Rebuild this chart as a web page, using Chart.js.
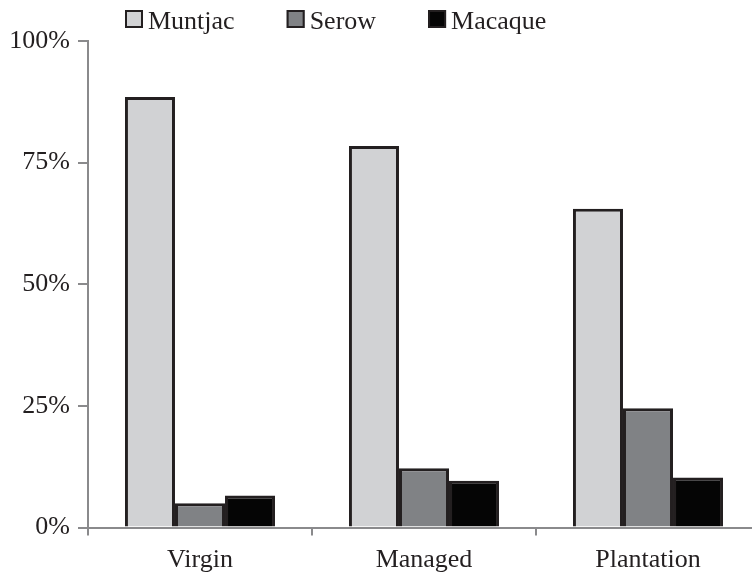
<!DOCTYPE html>
<html lang="en">

<head>
  <meta charset="UTF-8">
  <title>Species share by forest type</title>
  <style>
    * {
      margin: 0;
      padding: 0;
    }

    body {
      width: 752px;
      height: 577px;
      overflow: hidden;
      background: #ffffff;
    }

    .chartBox {
      width: 766px;
      height: 577px;
    }
  </style>
</head>

<body>
  <div class="chartBox">
    <canvas id="myChart"></canvas>
  </div>
  <script src="https://cdn.jsdelivr.net/npm/chart.js@4.4.1/dist/chart.umd.min.js"></script>
  <script>
    const categories = ["Virgin", "Managed", "Plantation"];
    const seriesNames = ["Muntjac", "Serow", "Macaque"];
    const muntjac = [88.5, 78.4, 65.5];
    const serow = [5.0, 12.2, 24.5];
    const macaque = [6.6, 9.6, 10.3];
    const yTicks = [0, 25, 50, 75, 100];

    const fills = ["#d1d2d4", "#808285", "#050505"];
    const edge = "#231f20";
    const axisGrey = "#8a8a8c";
    const serif = "'Liberation Serif', 'Times New Roman', serif";

    Chart.defaults.font.family = serif;
    Chart.defaults.color = edge;

    // legend drawn by hand so it sits where the original one does
    const topLegend = {
      id: "topLegend",
      afterDraw: (chart) => {
        const c = chart.ctx;
        c.save();
        c.font = "26px " + serif;
        c.textBaseline = "alphabetic";
        let x = 125;
        chart.data.datasets.forEach(ds => {
          c.fillStyle = ds.backgroundColor;
          c.fillRect(x, 10, 18, 18);
          c.strokeStyle = edge;
          c.lineWidth = 2;
          c.strokeRect(x + 1, 11, 16, 16);
          c.fillStyle = edge;
          c.fillText(ds.label, x + 23, 29);
          x += 23 + c.measureText(ds.label).width + 52;
        });
        c.restore();
      }
    };

    const data = {
      labels: categories,
      datasets: [muntjac, serow, macaque].map((vals, i) => ({
        label: seriesNames[i],
        data: vals,
        backgroundColor: fills[i],
        borderColor: edge,
        borderWidth: 3,
        categoryPercentage: 0.67,
        barPercentage: 1
      }))
    };

    const options = {
      responsive: true,
      maintainAspectRatio: false,
      animation: false,
      layout: {
        padding: { top: 41, left: 10, right: 6, bottom: 0 }
      },
      plugins: {
        legend: { display: false },
        tooltip: { enabled: false }
      },
      scales: {
        x: {
          afterFit: (scale) => {
            scale.height = 49.5;
          },
          grid: {
            display: true,
            offset: true,
            drawOnChartArea: false,
            drawTicks: true,
            tickLength: 8,
            color: axisGrey,
            lineWidth: 2
          },
          border: { color: axisGrey, width: 2 },
          ticks: {
            font: { size: 26 },
            color: edge,
            padding: 9
          }
        },
        y: {
          min: 0,
          max: 100,
          afterBuildTicks: (scale) => {
            scale.ticks = yTicks.map(v => ({ value: v }));
          },
          afterFit: (scale) => {
            scale.width = 78;
          },
          grid: {
            display: true,
            drawOnChartArea: false,
            drawTicks: true,
            tickLength: 10,
            color: axisGrey,
            lineWidth: 2
          },
          border: { color: axisGrey, width: 2 },
          ticks: {
            font: { size: 26 },
            color: edge,
            padding: 8,
            callback: (v) => v + "%"
          }
        }
      }
    };

    const config = {
      type: "bar",
      data: data,
      options: options,
      plugins: [topLegend]
    };

    const ctx = document.getElementById("myChart").getContext("2d");
    const myChart = new Chart(ctx, config);
  </script>
</body>

</html>
